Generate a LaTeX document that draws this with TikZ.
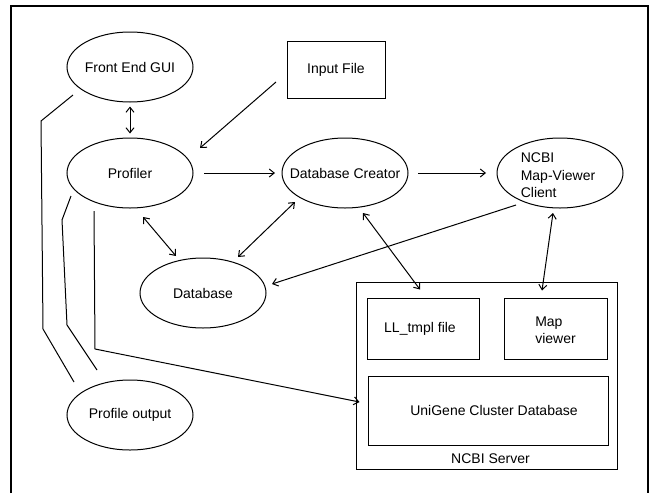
\documentclass[tikz,border=0pt]{standalone}
\usepackage{fontspec}
\setmainfont{Liberation Sans}
\usetikzlibrary{shapes.geometric,calc,arrows.meta}
\begin{document}
\begin{tikzpicture}[x=1pt,y=-1pt,
  every node/.style={font=\fontsize{14}{17.5}\selectfont},
  ell/.style={draw,ellipse,minimum width=126pt,minimum height=70pt,inner sep=0pt,line width=1pt},
  box/.style={draw,rectangle,inner sep=0pt,line width=1pt},
  conn/.style={line width=1pt},
  tip/.style={-{Straight Barb[length=5pt,width=8pt]}},
  tips/.style={{Straight Barb[length=5pt,width=8pt]}-{Straight Barb[length=5pt,width=8pt]}},
  txt/.style={align=left,inner sep=0pt}
]
\useasboundingbox (0,0) rectangle (653,493);
\fill[white] (0,0) rectangle (653,493);
\draw[line width=2.5pt] (11,493) -- (11,6) -- (648,6) -- (648,493);

\node[ell] (front) at (130,67) {};
\node[txt] at (front.center) {Front End GUI};
\node[ell] (prof) at (130,173) {};
\node[txt] at (prof.center) {Profiler};
\node[ell] (dbc) at (345,173) {};
\node[txt] at (dbc.center) {Database Creator};
\node[ell] (ncbi) at (560,173) {};
\node[txt] at ($(ncbi.center)+(-2,2.5)$) {NCBI\\Map-Viewer\\Client};
\node[ell] (db) at (203,293) {};
\node[txt] at (db.center) {Database};
\node[ell] (pout) at (130,415) {};
\node[txt] at (pout.center) {Profile output};

\node[box,minimum width=98pt,minimum height=57pt] (input) at (336,69.5) {Input File};
\node[box,minimum width=261pt,minimum height=187pt] (server) at (486.5,375.5) {};
\node[txt] at ($(server.south)+(4,-11)$) {NCBI Server};
\node[box,minimum width=112pt,minimum height=61pt] (ll) at (423,328.5) {};
\node[txt] at ($(ll.center)+(-3,0)$) {LL\_tmpl file};
\node[box,minimum width=103pt,minimum height=61pt] (mv) at (555.5,328.5) {};
\node[txt] at ($(mv.center)+(0,1.5)$) {Map\\viewer};
\node[box,minimum width=240pt,minimum height=69pt] (ug) at (488,410.5) {};
\node[txt] at ($(ug.center)+(6,0)$) {UniGene Cluster Database};

\draw[conn,tips] ($(front.south)+(0,4)$) -- ($(prof.north)+(0,-4)$);
\draw[conn,tip] ($(input.center)+(-60,12.5)$) -- ($(prof.center)+(70,-25)$);
\draw[conn,tip] ($(prof.center)+(74,0)$) -- ($(dbc.center)+(-70,0)$);
\draw[conn,tip] ($(dbc.center)+(73,0)$) -- ($(ncbi.center)+(-74,0)$);
\draw[conn,tips] ($(prof.center)+(13,44)$) -- ($(db.center)+(-27,-37)$);
\draw[conn,tips] ($(dbc.center)+(-50,29)$) -- ($(db.center)+(35,-36)$);
\draw[conn,tip] ($(ncbi.center)+(-44,32)$) -- ($(db.center)+(69,-9)$);
\draw[conn,tips] ($(dbc.center)+(18,40)$) -- ($(ll.north)+(-3,-8)$);
\draw[conn,tips] ($(ncbi.center)+(-7,40)$) -- ($(mv.north)+(-13.5,-7)$);
\draw[conn,tip] ($(prof.center)+(-36,38)$) -- ++(1,138) -- ($(ug.west)+(-8,-8.5)$);
\draw[conn] ($(front.center)+(-57,28)$) -- ++(-32,26) -- ++(2,208) -- ($(pout.center)+(-56,-33)$);
\draw[conn] ($(prof.center)+(-59,23)$) -- ++(-9,24) -- ++(5,105) -- ($(pout.center)+(-33,-45)$);
\end{tikzpicture}
\end{document}
